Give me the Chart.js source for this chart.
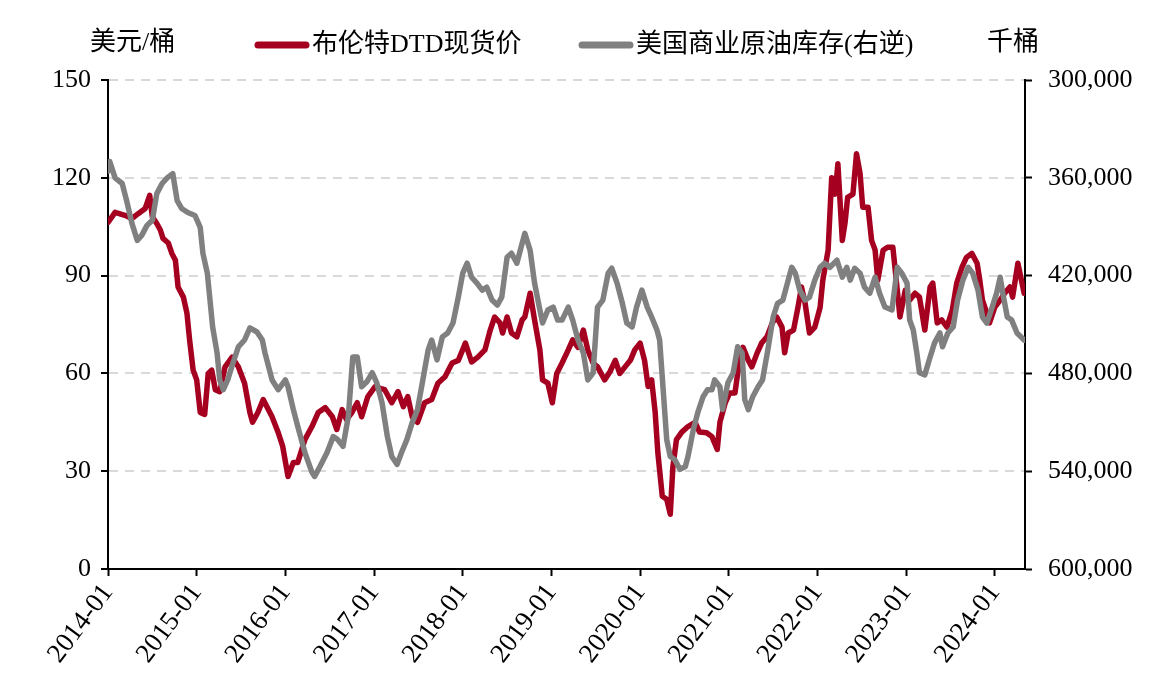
<!DOCTYPE html>
<html>
<head>
<meta charset="utf-8">
<script src="https://cdn.jsdelivr.net/npm/chart.js@4.4.1/dist/chart.umd.min.js"></script>
<style>
  html, body { margin: 0; padding: 0; background: #ffffff; }
  #wrap { width: 1167px; height: 686px; position: relative; }
</style>
</head>
<body>
<div id="wrap"><canvas id="c" width="1167" height="686"></canvas></div>
<script>
// ---------------- DATA ----------------
const seriesNames = ['布伦特DTD现货价', '美国商业原油库存(右逆)'];
const leftUnit = '美元/桶';
const rightUnit = '千桶';
const tickYears = [2014, 2015, 2016, 2017, 2018, 2019, 2020, 2021, 2022, 2023, 2024];
const tickLabels = ['2014-01','2015-01','2016-01','2017-01','2018-01','2019-01','2020-01','2021-01','2022-01','2023-01','2024-01'];

// Brent DTD spot price (USD/bbl); time as decimal year
const brentT = [2014.00,2014.08,2014.19,2014.27,2014.34,2014.42,2014.47,2014.50,2014.55,2014.59,
  2014.62,2014.68,2014.72,2014.76,2014.79,2014.85,2014.89,2014.92,2014.96,2015.00,
  2015.04,2015.09,2015.13,2015.17,2015.21,2015.26,2015.32,2015.40,2015.47,2015.54,
  2015.60,2015.63,2015.69,2015.75,2015.85,2015.92,2015.97,2016.03,2016.09,2016.14,
  2016.22,2016.30,2016.37,2016.45,2016.53,2016.58,2016.64,2016.69,2016.75,2016.81,
  2016.86,2016.93,2017.01,2017.12,2017.20,2017.27,2017.33,2017.38,2017.43,2017.49,
  2017.57,2017.65,2017.72,2017.80,2017.88,2017.95,2018.03,2018.10,2018.17,2018.25,
  2018.31,2018.36,2018.42,2018.45,2018.50,2018.55,2018.61,2018.67,2018.70,2018.76,
  2018.81,2018.87,2018.90,2018.96,2019.01,2019.06,2019.12,2019.19,2019.24,2019.30,
  2019.36,2019.41,2019.47,2019.52,2019.60,2019.66,2019.72,2019.77,2019.83,2019.89,
  2019.94,2020.00,2020.05,2020.09,2020.13,2020.17,2020.20,2020.25,2020.30,2020.34,
  2020.37,2020.41,2020.47,2020.54,2020.62,2020.67,2020.75,2020.81,2020.87,2020.90,
  2020.96,2021.01,2021.07,2021.10,2021.16,2021.22,2021.26,2021.32,2021.37,2021.43,
  2021.49,2021.54,2021.60,2021.63,2021.67,2021.73,2021.78,2021.82,2021.86,2021.91,
  2021.97,2022.03,2022.06,2022.12,2022.16,2022.20,2022.23,2022.28,2022.31,2022.34,
  2022.40,2022.44,2022.48,2022.51,2022.57,2022.61,2022.65,2022.68,2022.74,2022.79,
  2022.85,2022.90,2022.93,2022.99,2023.04,2023.10,2023.15,2023.21,2023.27,2023.30,
  2023.35,2023.40,2023.46,2023.52,2023.57,2023.63,2023.68,2023.74,2023.80,2023.83,
  2023.86,2023.91,2023.94,2024.00,2024.06,2024.11,2024.17,2024.20,2024.26,2024.33];
const brentV = [106.3,109.4,108.5,107.5,109,110.6,114.6,108,106,104,
  101.4,100,96.8,94.7,86.5,83.4,78.5,70.3,61,58,
  48,47.4,60,61,55,54.4,62,65,62,57,
  48,45,48,52,46.7,41.8,37.6,28.4,32.7,32.7,
  39.7,43.7,48,49.5,46.7,42.8,48.9,45.8,48,51,
  46.7,52.9,55.9,55,51,54.4,49.8,52.9,46.7,45,
  51,52,57,59,63.2,64,69.3,63.5,65,67.2,
  73.3,77.3,75.5,72.4,77.3,72.4,71.2,76.4,77.3,84.6,
  76.4,67.2,58,57,51,60,63.2,67.2,70.3,68,
  73.3,67.2,63.2,62,58,60.5,64,60,62,64,
  67.2,69.3,64,56,58,48,35.7,22.3,21.4,16.8,
  31.5,39.7,42,43.7,45,42,41.8,40.6,36.7,45,
  51,54,54,60,68,64,62,66.3,69.3,71.2,
  75.5,77.3,74.2,66.3,72.4,73.3,80.3,86.5,81.6,72.4,
  74.2,80.3,88.6,97.8,120,115,124.3,100.8,106,114,
  115,127.4,121.3,111,111,100.8,97.8,88.6,97.8,98.7,
  98.7,85.5,77.3,85.5,82.5,84.6,83.4,73.3,86.5,87.7,
  75.5,76.4,74.2,79.4,87.7,92.6,95.6,96.8,93.8,88.6,
  82.5,78.5,75.5,80.3,82.5,84.6,86.5,83.4,93.8,84.6];

// US commercial crude inventory (thousand bbl), plotted on reversed right axis
const stockT = [2014.00,2014.02,2014.08,2014.16,2014.21,2014.27,2014.33,2014.38,2014.44,2014.50,
  2014.55,2014.61,2014.67,2014.73,2014.78,2014.83,2014.90,2014.98,2015.04,2015.07,
  2015.12,2015.15,2015.18,2015.23,2015.26,2015.30,2015.35,2015.41,2015.47,2015.54,
  2015.60,2015.68,2015.74,2015.77,2015.85,2015.92,2016.00,2016.03,2016.09,2016.14,
  2016.22,2016.30,2016.33,2016.39,2016.47,2016.54,2016.59,2016.65,2016.71,2016.76,
  2016.81,2016.86,2016.92,2016.98,2017.03,2017.09,2017.15,2017.20,2017.26,2017.31,
  2017.37,2017.43,2017.49,2017.55,2017.61,2017.65,2017.71,2017.77,2017.83,2017.89,
  2017.95,2018.00,2018.05,2018.10,2018.16,2018.22,2018.27,2018.33,2018.39,2018.44,
  2018.50,2018.55,2018.61,2018.67,2018.70,2018.76,2018.81,2018.87,2018.90,2018.96,
  2019.02,2019.07,2019.12,2019.19,2019.24,2019.30,2019.36,2019.41,2019.47,2019.52,
  2019.58,2019.64,2019.68,2019.74,2019.80,2019.85,2019.91,2019.96,2020.02,2020.08,
  2020.13,2020.19,2020.22,2020.26,2020.30,2020.34,2020.39,2020.45,2020.51,2020.54,
  2020.60,2020.65,2020.71,2020.76,2020.81,2020.84,2020.90,2020.93,2020.99,2021.05,
  2021.10,2021.15,2021.18,2021.22,2021.27,2021.33,2021.38,2021.44,2021.50,2021.55,
  2021.61,2021.67,2021.71,2021.75,2021.80,2021.86,2021.91,2021.97,2022.03,2022.08,
  2022.14,2022.22,2022.28,2022.33,2022.37,2022.42,2022.48,2022.53,2022.59,2022.65,
  2022.70,2022.76,2022.84,2022.90,2022.95,2023.01,2023.04,2023.08,2023.12,2023.15,
  2023.21,2023.27,2023.32,2023.38,2023.41,2023.47,2023.53,2023.58,2023.64,2023.70,
  2023.75,2023.81,2023.86,2023.91,2023.97,2024.02,2024.06,2024.09,2024.14,2024.19,
  2024.25,2024.33];
const stockV = [356000,350000,360000,363500,374000,388000,398400,395300,389200,386000,
  369700,363500,359900,357400,374000,378800,381300,383100,390400,406300,
  418500,435000,451500,467400,484000,490000,484000,473500,463700,459500,
  452100,454600,459500,467400,484000,490000,484000,488200,502200,512600,
  528500,540700,543200,537100,528500,518700,520600,524800,506500,469900,
  469900,488200,485100,479600,485700,498000,518700,531000,535800,528500,
  520600,510200,502200,484000,465600,459500,471700,457600,455200,449100,
  433200,418500,412400,421000,424600,428900,427100,435000,438100,433200,
  408800,406300,412400,400200,394100,404500,424600,441100,449100,441100,
  439300,447300,447300,439300,447300,459500,467400,484000,479600,439300,
  435000,418500,415500,424600,437000,449100,451500,439300,428900,439300,
  445400,453400,459500,490000,520600,531000,532800,538900,537100,531000,
  514500,504100,494300,490000,490000,484000,488200,502200,485700,479600,
  463700,467400,496100,502200,494300,488200,484000,465600,445400,437000,
  435000,422800,414900,418500,428900,435000,433200,422800,414900,412400,
  414900,410600,421000,414900,422800,415500,418500,427100,430800,421000,
  430800,439300,441100,414900,418500,424600,447300,453400,467400,479600,
  480900,469900,461300,455200,463700,455200,451500,435000,422800,414900,
  418500,428900,445400,449100,439300,430800,421000,430800,445400,447300,
  455200,459500];

// ---------------- STYLE ----------------
const RED = 'rgb(166,0,33)';
const GRAY = 'rgb(128,128,128)';
const FONT_FAMILY = '"Liberation Serif", "Noto Sans CJK SC", serif';
const CANVAS_W = 1167, CANVAS_H = 686;
const PLOT_LEFT = 108, PLOT_RIGHT = 1025, PLOT_TOP = 80, PLOT_BOTTOM = 569;

const zip = (t, v) => t.map((x, i) => ({ x: x, y: v[i] }));

const annotations = {
  id: 'annotations',
  afterDraw(chart) {
    const ctx = chart.ctx;
    ctx.save();
    ctx.fillStyle = '#000';
    ctx.textBaseline = 'middle';
    ctx.font = '26px ' + FONT_FAMILY;
    ctx.textAlign = 'left';
    ctx.fillText(leftUnit, 90, 43);
    ctx.fillText(rightUnit, 987, 43);
    // legend
    const items = [
      { x: 254, color: RED, text: seriesNames[0] },
      { x: 578, color: GRAY, text: seriesNames[1] }
    ];
    items.forEach(it => {
      ctx.strokeStyle = it.color;
      ctx.lineWidth = 7;
      ctx.lineCap = 'round';
      ctx.beginPath();
      ctx.moveTo(it.x + 4, 45);
      ctx.lineTo(it.x + 52, 45);
      ctx.stroke();
      ctx.fillStyle = '#000';
      ctx.fillText(it.text, it.x + 58, 45);
    });
    ctx.restore();
  }
};

new Chart(document.getElementById('c'), {
  type: 'line',
  data: {
    datasets: [
      {
        label: seriesNames[0],
        data: zip(brentT, brentV),
        borderColor: RED,
        backgroundColor: RED,
        borderWidth: 5.5,
        borderJoinStyle: 'round',
        borderCapStyle: 'round',
        pointRadius: 0,
        tension: 0,
        yAxisID: 'y',
        order: 2
      },
      {
        label: seriesNames[1],
        data: zip(stockT, stockV),
        borderColor: GRAY,
        backgroundColor: GRAY,
        borderWidth: 5.5,
        borderJoinStyle: 'round',
        borderCapStyle: 'round',
        pointRadius: 0,
        tension: 0,
        yAxisID: 'y1',
        order: 1
      }
    ]
  },
  options: {
    responsive: false,
    animation: false,
    devicePixelRatio: 1,
    layout: { padding: { top: PLOT_TOP, left: 0, right: 0, bottom: 0 } },
    plugins: { legend: { display: false }, tooltip: { enabled: false } },
    scales: {
      x: {
        type: 'linear',
        min: 2014,
        max: 2024.34,
        afterBuildTicks: (scale) => { scale.ticks = tickYears.map(v => ({ value: v })); },
        afterFit: (scale) => { scale.height = CANVAS_H - PLOT_BOTTOM; },
        ticks: {
          autoSkip: false,
          minRotation: 53,
          maxRotation: 53,
          padding: 2,
          color: '#000',
          font: { family: FONT_FAMILY, size: 27 },
          callback: (v, i) => tickLabels[i]
        },
        grid: { drawOnChartArea: false, drawTicks: true, tickLength: 7, tickColor: '#000', tickWidth: 2 },
        border: { display: true, color: '#000', width: 2 }
      },
      y: {
        position: 'left',
        min: 0,
        max: 150,
        afterBuildTicks: (scale) => { scale.ticks = [0, 30, 60, 90, 120, 150].map(v => ({ value: v })); },
        afterFit: (scale) => { scale.width = PLOT_LEFT; },
        ticks: {
          padding: 10,
          color: '#000',
          font: { family: FONT_FAMILY, size: 26 }
        },
        grid: {
          color: (c) => (c.tick && c.tick.value === 0) ? 'rgba(0,0,0,0)' : '#d9d9d9',
          lineWidth: 2,
          drawTicks: true,
          tickLength: 7,
          tickColor: '#000',
          tickWidth: 2
        },
        border: { display: true, color: '#000', width: 2, dash: [9, 7] }
      },
      y1: {
        position: 'right',
        reverse: true,
        min: 300000,
        max: 600000,
        afterBuildTicks: (scale) => { scale.ticks = [300000, 360000, 420000, 480000, 540000, 600000].map(v => ({ value: v })); },
        afterFit: (scale) => { scale.width = CANVAS_W - PLOT_RIGHT; },
        ticks: {
          padding: 16,
          color: '#000',
          font: { family: FONT_FAMILY, size: 26 },
          callback: (v) => v.toLocaleString('en-US')
        },
        grid: { drawOnChartArea: false, drawTicks: true, tickLength: 7, tickColor: '#000', tickWidth: 2 },
        border: { display: true, color: '#000', width: 2 }
      }
    }
  },
  plugins: [annotations]
});
</script>
</body>
</html>
